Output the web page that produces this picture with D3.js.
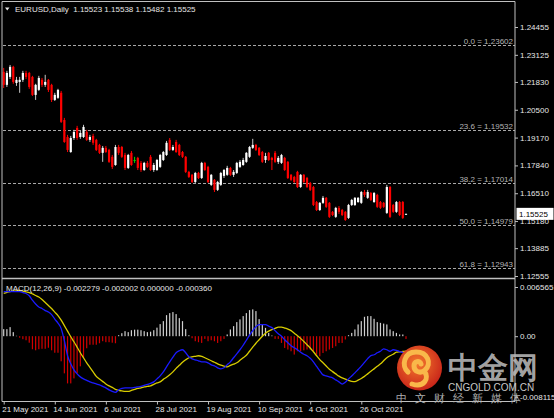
<!DOCTYPE html>
<html>
<head>
<meta charset="utf-8">
<script src="https://cdn.jsdelivr.net/npm/d3@7"></script>
<style>
html, body { margin: 0; padding: 0; background: #000; }
svg { display: block; }
text { font-family: "Liberation Sans", Arial, sans-serif; }
</style>
</head>
<body>
<div id="chart"></div>
<script>
// daily bars, [open, high, low, close]
const ohlc = [
    [1.2231,1.2250,1.2154,1.2169],[1.2169,1.2236,1.2159,1.2226],[1.2207,1.2264,1.2197,1.2255],[1.2255,1.2260,1.2174,1.2183],
    [1.2178,1.2207,1.2164,1.2193],[1.2183,1.2207,1.2131,1.2193],[1.2193,1.2236,1.2183,1.2226],[1.2226,1.2236,1.2197,1.2207],
    [1.2226,1.2231,1.2150,1.2159],[1.2207,1.2212,1.2116,1.2121],[1.2121,1.2174,1.2097,1.2169],[1.2145,1.2212,1.2140,1.2202],
    [1.2193,1.2202,1.2159,1.2169],[1.2169,1.2217,1.2159,1.2183],[1.2193,1.2197,1.2135,1.2145],[1.2169,1.2174,1.2087,1.2097],
    [1.2097,1.2131,1.2092,1.2121],[1.2107,1.2150,1.2102,1.2145],[1.2131,1.2140,1.1987,1.1992],[1.2001,1.2011,1.1892,1.1896],
    [1.1920,1.1930,1.1848,1.1858],[1.1848,1.1925,1.1844,1.1915],[1.1915,1.1954,1.1906,1.1944],[1.1963,1.1973,1.1906,1.1915],
    [1.1920,1.1949,1.1911,1.1939],[1.1920,1.1978,1.1915,1.1968],[1.1944,1.1954,1.1901,1.1906],[1.1906,1.1930,1.1896,1.1920],
    [1.1925,1.1935,1.1882,1.1892],[1.1906,1.1911,1.1853,1.1858],[1.1882,1.1887,1.1839,1.1844],[1.1844,1.1877,1.1801,1.1868],
    [1.1868,1.1877,1.1844,1.1848],[1.1858,1.1863,1.1796,1.1801],[1.1825,1.1834,1.1767,1.1777],[1.1786,1.1882,1.1782,1.1872],
    [1.1872,1.1882,1.1834,1.1844],[1.1872,1.1877,1.1820,1.1825],[1.1834,1.1844,1.1762,1.1772],[1.1772,1.1839,1.1767,1.1834],
    [1.1844,1.1853,1.1782,1.1786],[1.1810,1.1825,1.1796,1.1810],[1.1820,1.1825,1.1762,1.1772],[1.1796,1.1805,1.1753,1.1762],
    [1.1762,1.1801,1.1758,1.1796],[1.1796,1.1805,1.1772,1.1777],[1.1825,1.1834,1.1758,1.1762],[1.1762,1.1796,1.1753,1.1786],
    [1.1762,1.1815,1.1758,1.1810],[1.1777,1.1839,1.1772,1.1834],[1.1810,1.1853,1.1805,1.1848],[1.1834,1.1901,1.1829,1.1892],
    [1.1906,1.1915,1.1853,1.1858],[1.1858,1.1882,1.1853,1.1872],[1.1896,1.1906,1.1844,1.1848],[1.1882,1.1887,1.1829,1.1834],
    [1.1848,1.1853,1.1820,1.1825],[1.1825,1.1829,1.1748,1.1753],[1.1753,1.1758,1.1724,1.1729],[1.1739,1.1743,1.1700,1.1705],
    [1.1705,1.1753,1.1700,1.1748],[1.1748,1.1753,1.1719,1.1724],[1.1724,1.1801,1.1719,1.1796],[1.1796,1.1801,1.1758,1.1762],
    [1.1777,1.1782,1.1700,1.1705],[1.1691,1.1743,1.1686,1.1739],[1.1715,1.1719,1.1657,1.1667],[1.1667,1.1710,1.1662,1.1705],
    [1.1691,1.1753,1.1686,1.1748],[1.1734,1.1767,1.1724,1.1762],[1.1739,1.1782,1.1734,1.1772],[1.1772,1.1777,1.1734,1.1739],
    [1.1739,1.1762,1.1729,1.1753],[1.1748,1.1801,1.1743,1.1796],[1.1777,1.1810,1.1772,1.1801],[1.1786,1.1820,1.1782,1.1810],
    [1.1801,1.1848,1.1796,1.1844],[1.1825,1.1877,1.1820,1.1872],[1.1868,1.1911,1.1863,1.1882],[1.1882,1.1887,1.1853,1.1858],
    [1.1868,1.1872,1.1829,1.1834],[1.1848,1.1853,1.1796,1.1801],[1.1810,1.1844,1.1796,1.1829],[1.1844,1.1848,1.1805,1.1810],
    [1.1820,1.1825,1.1762,1.1810],[1.1844,1.1853,1.1796,1.1801],[1.1801,1.1829,1.1791,1.1820],[1.1796,1.1839,1.1791,1.1834],
    [1.1820,1.1825,1.1758,1.1762],[1.1801,1.1805,1.1719,1.1724],[1.1739,1.1743,1.1710,1.1715],[1.1729,1.1734,1.1700,1.1705],
    [1.1753,1.1758,1.1676,1.1681],[1.1681,1.1743,1.1676,1.1739],[1.1739,1.1743,1.1700,1.1705],[1.1724,1.1729,1.1676,1.1681],
    [1.1700,1.1705,1.1662,1.1667],[1.1681,1.1686,1.1590,1.1595],[1.1609,1.1614,1.1566,1.1571],[1.1571,1.1609,1.1566,1.1605],
    [1.1605,1.1638,1.1600,1.1629],[1.1629,1.1633,1.1581,1.1586],[1.1605,1.1609,1.1533,1.1538],[1.1562,1.1566,1.1542,1.1547],
    [1.1538,1.1586,1.1533,1.1581],[1.1581,1.1590,1.1552,1.1562],[1.1571,1.1576,1.1542,1.1547],[1.1562,1.1566,1.1519,1.1523],
    [1.1533,1.1600,1.1528,1.1595],[1.1595,1.1624,1.1590,1.1619],[1.1595,1.1633,1.1590,1.1629],[1.1609,1.1633,1.1605,1.1629],
    [1.1605,1.1662,1.1600,1.1657],[1.1657,1.1667,1.1633,1.1643],[1.1629,1.1667,1.1624,1.1657],[1.1652,1.1657,1.1614,1.1619],
    [1.1609,1.1657,1.1605,1.1652],[1.1643,1.1648,1.1581,1.1586],[1.1609,1.1614,1.1576,1.1581],[1.1605,1.1609,1.1581,1.1586],
    [1.1557,1.1691,1.1552,1.1681],[1.1681,1.1686,1.1533,1.1538],[1.1595,1.1600,1.1557,1.1562],[1.1562,1.1614,1.1557,1.1609],
    [1.1609,1.1614,1.1542,1.1547],[1.1609,1.1614,1.1528,1.1533],[1.15523,1.15538,1.15482,1.15525]
];

const priceTicks = [1.24455, 1.23125, 1.21830, 1.20500, 1.19170, 1.17840, 1.16510, 1.15180, 1.13885, 1.12555];
const fibRatios = ["0.0", "23.6", "38.2", "50.0", "61.8"];
const fibPrices = [1.23602, 1.19532, 1.17014, 1.14979, 1.12943];
const lastPrice = 1.15525;

const dateTicks = [0, 16, 32, 48, 64, 80, 96, 112];
const dateLabels = ["21 May 2021", "14 Jun 2021", "6 Jul 2021", "28 Jul 2021",
    "19 Aug 2021", "10 Sep 2021", "4 Oct 2021", "26 Oct 2021"];

// MACD(12,26,9), main line (blue)
const macdMain = [
    0.00596, 0.00596, 0.00596, 0.00596, 0.00596, 0.00596, 0.00583, 0.00570, 0.00540, 0.00480,
    0.00430, 0.00389, 0.00369, 0.00342, 0.00322, 0.00288, 0.00228, 0.00174, 0.00101, -0.00060,
    -0.00261, -0.00369, -0.00449, -0.00503, -0.00543, -0.00570, -0.00590, -0.00610, -0.00623, -0.00637,
    -0.00650, -0.00670, -0.00690, -0.00717, -0.00737, -0.00750, -0.00717, -0.00697, -0.00690, -0.00690,
    -0.00690, -0.00683, -0.00677, -0.00670, -0.00657, -0.00643, -0.00630, -0.00610, -0.00570, -0.00529,
    -0.00476, -0.00409, -0.00342, -0.00281, -0.00221, -0.00194, -0.00181, -0.00221, -0.00275, -0.00302,
    -0.00315, -0.00328, -0.00342, -0.00342, -0.00355, -0.00382, -0.00395, -0.00422, -0.00436, -0.00422,
    -0.00382, -0.00342, -0.00288, -0.00235, -0.00181, -0.00121, -0.00054, 0.00013, 0.00074, 0.00127,
    0.00154, 0.00154, 0.00154, 0.00134, 0.00114, 0.00074, 0.00034, 0.00000, -0.00047, -0.00087,
    -0.00127, -0.00154, -0.00181, -0.00214, -0.00241, -0.00261, -0.00295, -0.00342, -0.00402, -0.00462,
    -0.00516, -0.00529, -0.00543, -0.00556, -0.00583, -0.00610, -0.00640, -0.00615, -0.00570, -0.00530,
    -0.00490, -0.00445, -0.00400, -0.00350, -0.00300, -0.00260, -0.00248, -0.00221, -0.00201, -0.00168,
    -0.00181, -0.00201, -0.00181, -0.00188, -0.00205, -0.00215, -0.002279
];

// signal line (yellow)
const macdSignal = [
    0.00572, 0.00586, 0.00596, 0.00602, 0.00606, 0.00610, 0.00602, 0.00592, 0.00583, 0.00565,
    0.00543, 0.00523, 0.00489, 0.00449, 0.00409, 0.00369, 0.00322, 0.00275, 0.00214, 0.00141,
    0.00067, -0.00007, -0.00074, -0.00147, -0.00221, -0.00288, -0.00355, -0.00415, -0.00476, -0.00536,
    -0.00570, -0.00603, -0.00637, -0.00663, -0.00683, -0.00710, -0.00724, -0.00730, -0.00737, -0.00737,
    -0.00724, -0.00710, -0.00697, -0.00690, -0.00677, -0.00670, -0.00663, -0.00643, -0.00623, -0.00610,
    -0.00576, -0.00549, -0.00516, -0.00476, -0.00429, -0.00389, -0.00348, -0.00315, -0.00288, -0.00275,
    -0.00268, -0.00261, -0.00268, -0.00288, -0.00308, -0.00328, -0.00348, -0.00369, -0.00386, -0.00398,
    -0.00409, -0.00390, -0.00373, -0.00355, -0.00322, -0.00288, -0.00255, -0.00201, -0.00147, -0.00094,
    -0.00047, 0.00000, 0.00040, 0.00067, 0.00087, 0.00103, 0.00121, 0.00121, 0.00109, 0.00095,
    0.00074, 0.00040, 0.00007, -0.00029, -0.00071, -0.00114, -0.00157, -0.00208, -0.00261, -0.00312,
    -0.00355, -0.00398, -0.00441, -0.00473, -0.00503, -0.00533, -0.00556, -0.00572, -0.00590, -0.00604,
    -0.00607, -0.00587, -0.00564, -0.00536, -0.00503, -0.00469, -0.00436, -0.00402, -0.00369, -0.00328,
    -0.00288, -0.00261, -0.00241, -0.00214, -0.00208, -0.00204, -0.002002
];

// histogram
const macdHist = [
    0.00094, 0.00094, 0.00121, 0.00054, 0.00005, -0.00020, -0.00040, -0.00054, -0.00087, -0.00174,
    -0.00188, -0.00174, -0.00168, -0.00168, -0.00154, -0.00188, -0.00221, -0.00221, -0.00335, -0.00496,
    -0.00630, -0.00630, -0.00563, -0.00496, -0.00402, -0.00295, -0.00161, -0.00114, -0.00114, -0.00114,
    -0.00094, -0.00067, -0.00080, -0.00080, -0.00087, -0.00094, 0.00013, 0.00040, 0.00067, 0.00054,
    0.00080, 0.00087, 0.00087, 0.00080, 0.00067, 0.00054, 0.00060, 0.00080, 0.00114, 0.00161,
    0.00201, 0.00281, 0.00308, 0.00322, 0.00295, 0.00241, 0.00201, 0.00094, 0.00013, -0.00027,
    -0.00067, -0.00080, -0.00090, -0.00036, -0.00067, -0.00054, -0.00067, -0.00090, -0.00067, -0.00036,
    0.00023, 0.00090, 0.00134, 0.00188, 0.00224, 0.00268, 0.00308, 0.00348, 0.00358, 0.00335,
    0.00228, 0.00157, 0.00111, 0.00044, 0.00009, -0.00036, -0.00036, -0.00090, -0.00157, -0.00178,
    -0.00201, -0.00245, -0.00201, -0.00201, -0.00188, -0.00178, -0.00178, -0.00201, -0.00245, -0.00268,
    -0.00224, -0.00201, -0.00178, -0.00157, -0.00134, -0.00090, -0.00090, -0.00044, 0.00013, 0.00044,
    0.00090, 0.00157, 0.00201, 0.00259, 0.00268, 0.00268, 0.00232, 0.00188, 0.00178, 0.00168,
    0.00157, 0.00090, 0.00067, 0.00044, 0.00023, 0.00023, -0.00036
];

const macdTicks = [0.006565, 0, -0.008115];
const macdTickLabels = ["0.006565", "0.00", "-0.008115"];

const W = 554, H = 418;
const frameLeft = 2, frameRight = 515, frameTop = 1.5, splitY = 278.5, frameBottom = 401.5;

const svg = d3.select("#chart").append("svg")
    .attr("width", W)
    .attr("height", H);

svg.append("rect").attr("width", W).attr("height", H).attr("fill", "#000");

const x = d3.scaleLinear().domain([0, ohlc.length - 1]).range([3.7, 406]);
const y = d3.scaleLinear().domain([1.12555, 1.24455]).range([276, 27]);
const ym = d3.scaleLinear().domain([-0.008115, 0.006565]).range([397, 287]);

// fibonacci levels
const fib = svg.append("g");
fib.selectAll("line").data(fibPrices).join("line")
    .attr("x1", frameLeft + 1).attr("x2", frameRight)
    .attr("y1", d => Math.round(y(d)) + 0.5).attr("y2", d => Math.round(y(d)) + 0.5)
    .attr("stroke", "#a8a8a8")
    .attr("stroke-dasharray", "3,2");
fib.selectAll("text").data(fibPrices).join("text")
    .attr("x", frameRight - 2)
    .attr("y", d => Math.round(y(d)) - 1.5)
    .attr("text-anchor", "end")
    .attr("font-size", 8)
    .attr("fill", "#b4b4b4")
    .text((d, i) => fibRatios[i] + " = " + d.toFixed(5));

// candles
const bull = "#ffffff", bear = "#ff0000", doji = "#00e000";
const colorOf = d => d[3] > d[0] ? bull : (d[3] < d[0] ? bear : doji);

const candles = svg.append("g").selectAll("g").data(ohlc).join("g");
candles.append("line")
    .attr("x1", (d, i) => x(i)).attr("x2", (d, i) => x(i))
    .attr("y1", d => y(d[1])).attr("y2", d => y(d[2]))
    .attr("stroke", d => d[3] > d[0] ? "#c8c8c8" : colorOf(d))
    .attr("stroke-width", 1);
candles.append("rect")
    .attr("x", (d, i) => x(i) - 1.1)
    .attr("width", 2.2)
    .attr("y", d => y(Math.max(d[0], d[3])))
    .attr("height", d => Math.max(1, Math.abs(y(d[0]) - y(d[3]))))
    .attr("fill", colorOf);

// MACD histogram
svg.append("g").selectAll("rect").data(macdHist).join("rect")
    .attr("x", (d, i) => x(i) - 0.6)
    .attr("width", 1.2)
    .attr("y", d => Math.min(ym(0), ym(d)))
    .attr("height", d => Math.abs(ym(d) - ym(0)))
    .attr("fill", d => d >= 0 ? "#d0d0d0" : "#d00000");

const line = d3.line().x((d, i) => x(i)).y(d => ym(d)).curve(d3.curveMonotoneX);
svg.append("path").datum(macdSignal)
    .attr("d", line).attr("fill", "none")
    .attr("stroke", "#d8cc00").attr("stroke-width", 1.3);
svg.append("path").datum(macdMain)
    .attr("d", line).attr("fill", "none")
    .attr("stroke", "#1a1aff").attr("stroke-width", 1.3);

// frame
const frame = svg.append("g").attr("stroke", "#c0c0c0").attr("stroke-width", 1);
frame.append("line").attr("x1", frameLeft).attr("x2", frameLeft).attr("y1", frameTop).attr("y2", frameBottom);
frame.append("line").attr("x1", frameRight).attr("x2", frameRight).attr("y1", frameTop).attr("y2", frameBottom);
frame.append("line").attr("x1", frameLeft).attr("x2", frameRight).attr("y1", frameTop).attr("y2", frameTop);
frame.append("line").attr("x1", frameLeft).attr("x2", frameRight).attr("y1", frameBottom).attr("y2", frameBottom);
frame.append("line").attr("x1", frameLeft).attr("x2", frameRight).attr("y1", splitY).attr("y2", splitY)
    .attr("stroke-width", 1.5);

function styleAxis(g) {
    g.select(".domain").remove();
    g.selectAll(".tick line").attr("stroke", "#c0c0c0");
    g.selectAll(".tick text").attr("fill", "#e6e6e6")
        .attr("font-family", "'Liberation Sans', Arial, sans-serif")
        .attr("font-size", 8);
}

// price axis
svg.append("g")
    .attr("transform", `translate(${frameRight},0)`)
    .call(d3.axisRight(y).tickValues(priceTicks).tickSize(3).tickPadding(2)
        .tickFormat(d3.format(".5f")))
    .call(styleAxis);

// MACD axis
svg.append("g")
    .attr("transform", `translate(${frameRight},0)`)
    .call(d3.axisRight(ym).tickValues(macdTicks).tickSize(3).tickPadding(2)
        .tickFormat((d, i) => macdTickLabels[i]))
    .call(styleAxis);

// date axis
svg.append("g")
    .attr("transform", `translate(0,${frameBottom})`)
    .call(d3.axisBottom(x).tickValues(dateTicks).tickSize(3).tickPadding(2)
        .tickFormat((d, i) => dateLabels[i]))
    .call(styleAxis)
    .call(g => g.selectAll(".tick text").attr("text-anchor", "start").attr("x", -2));

// current price marker
const py = y(lastPrice);
svg.append("rect")
    .attr("x", frameRight + 1.5).attr("y", py - 6)
    .attr("width", 37).attr("height", 12)
    .attr("fill", "#fff");
svg.append("text")
    .attr("x", frameRight + 4).attr("y", py + 3)
    .attr("font-size", 8).attr("fill", "#000")
    .text(lastPrice.toFixed(5));

// titles
svg.append("path").attr("d", "M5,7.5L9.5,7.5L7.25,10.5Z").attr("fill", "#e6e6e6");
svg.append("text")
    .attr("x", 15).attr("y", 11.5)
    .attr("font-size", 8).attr("fill", "#e6e6e6")
    .attr("xml:space", "preserve")
    .text("EURUSD,Daily  " + ohlc[ohlc.length - 1].map(v => v.toFixed(5)).join(" "));
svg.append("text")
    .attr("x", 6).attr("y", 290.5)
    .attr("font-size", 8).attr("fill", "#e6e6e6")
    .text("MACD(12,26,9) " + [macdMain[macdMain.length - 1], macdSignal[macdSignal.length - 1], 0,
        macdHist[macdHist.length - 1]].map(v => v.toFixed(6)).join(" "));

// watermark
const wm = svg.append("g");
const grad = svg.append("defs").append("radialGradient").attr("id", "logoGrad")
    .attr("cx", "45%").attr("cy", "40%").attr("r", "60%");
grad.append("stop").attr("offset", "0%").attr("stop-color", "#f47a2c");
grad.append("stop").attr("offset", "100%").attr("stop-color", "#c9261a");
wm.append("circle").attr("cx", 419.5).attr("cy", 368).attr("r", 22.5).attr("fill", "url(#logoGrad)");
wm.append("path")
    .attr("d", "M408,372 C401,366 404,352 416,352 C428,352 432,364 425,370 C421,374 414,372 414,366 C414,361 420,360 421,364 M424,371 C430,378 424,388 412,384")
    .attr("fill", "none").attr("stroke", "#f9b84a").attr("stroke-width", 5).attr("stroke-linecap", "round");
wm.append("text")
    .attr("x", 448).attr("y", 378)
    .attr("font-family", "'Noto Sans CJK SC', sans-serif")
    .attr("font-weight", 900).attr("font-size", 30)
    .attr("fill", "#b8b8b8").attr("fill-opacity", 0.9)
    .text("中金网");
wm.append("text")
    .attr("x", 448).attr("y", 390.5)
    .attr("font-size", 10).attr("fill", "#c8c8c8")
    .text("CNGOLD.COM.CN");
wm.append("text")
    .attr("x", 396).attr("y", 402)
    .attr("font-family", "'Noto Sans CJK SC', sans-serif")
    .attr("font-size", 10.5).attr("letter-spacing", 8)
    .attr("fill", "#b0b0b0")
    .text("中文财经新媒体");
</script>
</body>
</html>
